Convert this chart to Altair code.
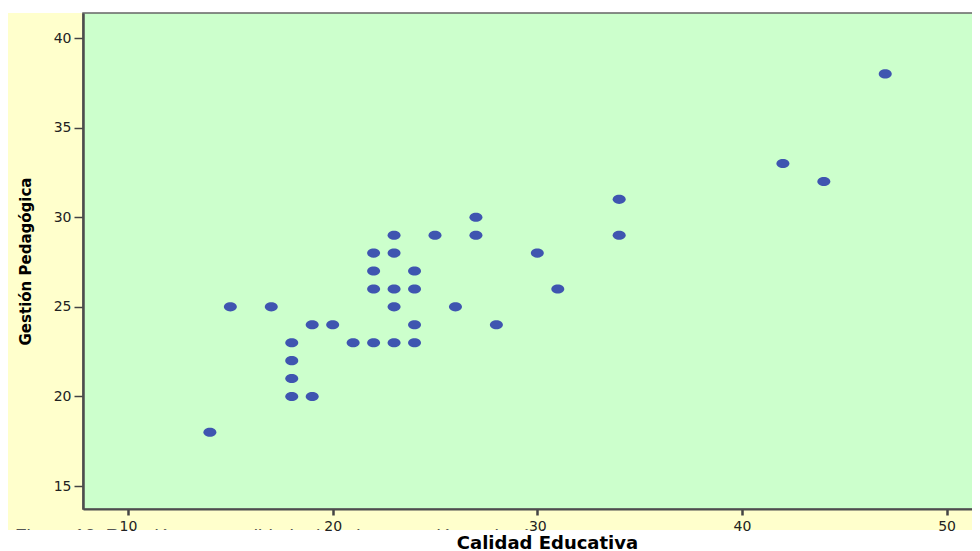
import altair as alt
import pandas as pd

# Data
calidad = [14, 15, 17, 18, 18, 18, 18, 19, 19, 20, 21, 22, 22, 22, 22, 23, 23, 23,
           23, 23, 24, 24, 24, 24, 25, 26, 27, 27, 28, 30, 31, 34, 34, 42, 44, 47]
gestion = [18, 25, 25, 23, 22, 21, 20, 24, 20, 24, 23, 28, 27, 26, 23, 29, 28, 26,
           25, 23, 27, 26, 24, 23, 29, 25, 30, 29, 24, 28, 26, 31, 29, 33, 32, 38]

x_ticks = [10, 20, 30, 40, 50]
y_ticks = [15, 20, 25, 30, 35, 40]
x_domain = [7.8, 51.24]
y_domain = [13.72, 41.4]

x_title = "Calidad Educativa"
y_title = "Gestión Pedagógica"
caption_text = "Figura 12. Relación entre calidad educativa y gestión pedagógica"

W, H = 889, 496

df = pd.DataFrame({"calidad": calidad, "gestion": gestion})
one = pd.DataFrame({"a": [0]})

bg = alt.Chart(one).mark_rect(fill="#FFFFCC", clip=False).encode(
    x=alt.value(-75), x2=alt.value(W), y=alt.value(0), y2=alt.value(H + 21)
)

caption = alt.Chart(one).mark_text(
    align="left", baseline="top", fontSize=19, color="#555555",
    font="Liberation Sans", clip=False
).encode(x=alt.value(-68), y=alt.value(H + 18), text=alt.value(caption_text))

white = alt.Chart(one).mark_rect(fill="white", clip=False).encode(
    x=alt.value(-80), x2=alt.value(W + 5), y=alt.value(H + 21), y2=alt.value(H + 60)
)

green = alt.Chart(one).mark_rect(
    fill="#CCFFCC", stroke="#666666", strokeWidth=1.5
).encode(x=alt.value(0), x2=alt.value(W + 10), y=alt.value(0), y2=alt.value(H))

ellipse = "M-1,0A1,0.7,0,1,1,1,0A1,0.7,0,1,1,-1,0Z"

points = alt.Chart(df).mark_point(
    shape=ellipse, filled=True, size=169, color="#3F55B0", opacity=1, strokeWidth=0
).encode(
    x=alt.X(
        "calidad:Q",
        scale=alt.Scale(domain=x_domain, nice=False, zero=False),
        axis=alt.Axis(
            values=x_ticks, grid=False, zindex=1,
            domainColor="#4d4d4d", domainWidth=2,
            tickColor="#444444", tickWidth=2.5, tickSize=6,
            labelFont="DejaVu Sans", labelFontSize=14, labelColor="#222222",
            labelPadding=4,
            title=x_title, titleFont="DejaVu Sans", titleFontSize=18,
            titleFontWeight="bold", titleColor="#000000",
            titleX=464, titleY=39, titleAlign="center", titleBaseline="alphabetic",
        ),
    ),
    y=alt.Y(
        "gestion:Q",
        scale=alt.Scale(domain=y_domain, nice=False, zero=False),
        axis=alt.Axis(
            values=y_ticks, grid=False, zindex=1,
            domainColor="#4d4d4d", domainWidth=2.5,
            tickColor="#444444", tickWidth=1.5, tickSize=9,
            labelFont="DejaVu Sans", labelFontSize=14, labelColor="#222222",
            labelPadding=3,
            title=y_title, titleFont="DejaVu Sans",
            titleFontSize=15, titleFontWeight="bold", titleColor="#000000",
            titleX=-53, titleY=H / 2, titleAngle=270, titleAlign="center",
            titleBaseline="alphabetic",
        ),
    ),
)

chart = alt.layer(bg, caption, white, green, points).properties(
    width=W, height=H,
    padding={"left": 75, "top": 5, "right": 0, "bottom": 40},
    autosize="none",
    background="white",
).configure_view(stroke=None)

chart.save("out.html", embed_options={"renderer": "svg", "actions": False})
